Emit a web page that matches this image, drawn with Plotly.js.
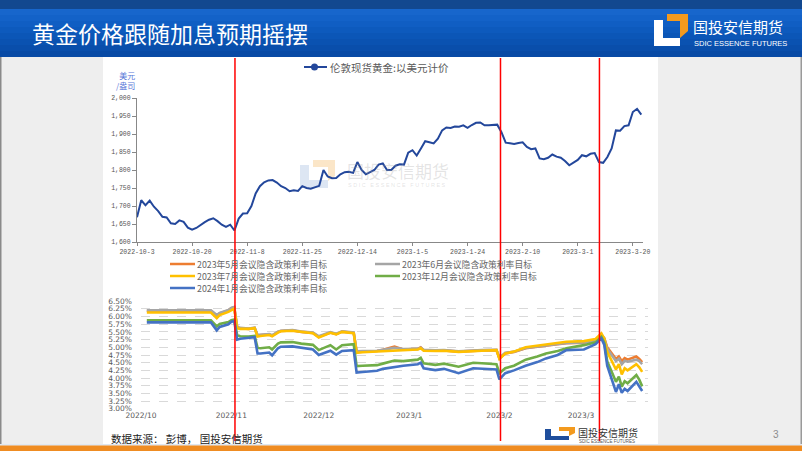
<!DOCTYPE html>
<html><head><meta charset="utf-8">
<script src="https://cdn.plot.ly/plotly-3.0.1.min.js"></script>
<style>html,body{margin:0;padding:0;background:#efefef;overflow:hidden}#chart{width:802px;height:451px}</style>
</head><body><div id="chart"></div>
<script>
// ---------- DATA ----------
const goldName = '伦敦现货黄金:以美元计价';
const goldPrice = [
 1669,1716,1702,1715,1698,1686,1670,1668,1652,1650,
 1660,1656,1640,1634,1639,1648,1655,1662,1666,1658,
 1648,1642,1648,1632,1665,1679,1680,1700,1735,1755,
 1766,1771,1772,1765,1755,1750,1741,1744,1742,1755,
 1750,1748,1753,1756,1800,1782,1777,1778,1788,1794,
 1795,1792,1822,1800,1788,1793,1800,1815,1818,1800,
 1800,1812,1816,1815,1848,1855,1840,1860,1880,1877,
 1874,1887,1910,1918,1917,1921,1920,1924,1917,1925,
 1931,1932,1924,1924,1924,1926,1905,1876,1874,1872,
 1875,1877,1864,1858,1860,1832,1830,1834,1843,1837,
 1834,1825,1813,1820,1828,1841,1838,1845,1847,1822,
 1820,1836,1860,1910,1909,1922,1924,1961,1970,1954
];
const goldTickLabels = ['2022-10-3','2022-10-20','2022-11-8','2022-11-25','2022-12-14','2023-1-5','2023-1-24','2023-2-10','2023-3-1','2023-3-20'];
const goldTickEvery = 13;

const rateDates = [
 '2022-10-03','2022-10-25','2022-10-27','2022-10-28','2022-10-31','2022-11-01','2022-11-02','2022-11-03','2022-11-04','2022-11-07',
 '2022-11-09','2022-11-10','2022-11-11','2022-11-14','2022-11-15','2022-11-17','2022-11-18','2022-11-22','2022-11-25','2022-11-29',
 '2022-12-01','2022-12-05','2022-12-07','2022-12-09','2022-12-13','2022-12-14','2022-12-16','2022-12-21','2022-12-23','2022-12-27',
 '2022-12-30','2023-01-04','2023-01-05','2023-01-06','2023-01-10','2023-01-13','2023-01-18','2023-01-23','2023-01-26','2023-01-31',
 '2023-02-01','2023-02-03','2023-02-06','2023-02-10','2023-02-14','2023-02-17','2023-02-21','2023-02-24','2023-03-02','2023-03-06',
 '2023-03-08','2023-03-09','2023-03-10','2023-03-13','2023-03-14','2023-03-15','2023-03-16','2023-03-17','2023-03-20','2023-03-21',
 '2023-03-22'
];
const may23 = [
 6.19,6.19,6.03,6.10,6.20,6.27,6.30,5.65,5.62,5.60,
 5.63,5.38,5.40,5.42,5.38,5.50,5.53,5.55,5.50,5.47,
 5.34,5.48,5.43,5.51,5.47,4.85,4.86,4.88,4.92,5.02,
 4.93,4.95,5.00,4.91,4.89,4.90,4.86,4.90,4.90,4.91,
 4.64,4.80,4.85,4.97,5.02,5.07,5.10,5.13,5.15,5.22,
 5.40,5.30,5.00,4.62,4.70,4.55,4.65,4.60,4.70,4.62,
 4.52
];
const jun23 = [
 6.20,6.20,6.05,6.12,6.21,6.28,6.31,5.66,5.63,5.61,
 5.64,5.40,5.41,5.43,5.39,5.51,5.54,5.56,5.51,5.48,
 5.36,5.49,5.44,5.52,5.48,4.87,4.88,4.89,4.92,4.98,
 4.94,4.95,4.99,4.92,4.90,4.91,4.87,4.91,4.91,4.92,
 4.66,4.82,4.86,4.98,5.03,5.08,5.11,5.14,5.16,5.23,
 5.41,5.28,4.95,4.55,4.63,4.45,4.56,4.53,4.60,4.55,
 4.45
];
const jul23 = [
 6.13,6.13,5.95,6.05,6.15,6.22,6.26,5.62,5.60,5.60,
 5.62,5.35,5.37,5.40,5.36,5.48,5.52,5.54,5.50,5.46,
 5.32,5.47,5.42,5.50,5.46,4.82,4.84,4.86,4.88,4.90,
 4.91,4.93,4.97,4.89,4.88,4.89,4.85,4.89,4.89,4.91,
 4.62,4.80,4.86,5.00,5.05,5.10,5.13,5.18,5.20,5.27,
 5.45,5.28,4.85,4.28,4.45,4.12,4.32,4.25,4.45,4.35,
 4.20
];
const dec23 = [
 5.88,5.88,5.68,5.76,5.82,5.88,5.90,5.40,5.36,5.35,
 5.37,4.98,4.97,5.00,4.93,5.12,5.16,5.17,5.12,5.08,
 4.91,5.07,4.93,5.07,5.10,4.39,4.40,4.42,4.47,4.57,
 4.55,4.60,4.66,4.48,4.43,4.47,4.37,4.50,4.48,4.45,
 4.16,4.32,4.40,4.60,4.70,4.80,4.88,4.97,5.07,5.16,
 5.34,5.15,4.55,3.88,4.05,3.72,3.90,3.83,4.10,3.95,
 3.73
];
const jan24 = [
 5.81,5.81,5.55,5.66,5.75,5.83,5.85,5.25,5.28,5.30,
 5.33,4.80,4.80,4.83,4.74,4.97,5.02,5.03,4.98,4.93,
 4.75,4.89,4.76,4.88,4.91,4.18,4.20,4.24,4.30,4.36,
 4.40,4.45,4.50,4.32,4.26,4.30,4.16,4.32,4.30,4.28,
 3.96,4.16,4.25,4.40,4.52,4.64,4.75,4.91,4.93,5.10,
 5.29,5.08,4.40,3.55,3.80,3.52,3.65,3.58,3.88,3.72,
 3.58
];
const rateSeries = [may23, jun23, jul23, dec23, jan24];
const rateNames = ['2023年5月会议隐含政策利率目标','2023年6月会议隐含政策利率目标','2023年7月会议隐含政策利率目标','2023年12月会议隐含政策利率目标','2024年1月会议隐含政策利率目标'];
const fomcDates = ['2022-11-02 06:00','2023-02-01 09:00','2023-03-07 08:00'];

// ---------- STYLE ----------
const rateColors = ['#ED7D31','#A5A5A5','#FFC000','#70AD47','#4472C4'];
const goldColor = '#23479b';
const W = 802, H = 451;
const px = x => x / W, py = y => 1 - y / H;
const path = pts => 'M' + pts.map(p => px(p[0]) + ',' + py(p[1])).join(' L') + ' Z';
const rect = (x0, y0, x1, y1, fill, layer) => ({type:'rect', xref:'paper', yref:'paper', x0:px(x0), x1:px(x1), y0:py(y1), y1:py(y0), fillcolor:fill, line:{width:0}, layer:layer||'below'});
const seg = (x0, y0, x1, y1, color, width) => ({type:'line', xref:'paper', yref:'paper', x0:px(x0), x1:px(x1), y0:py(y0), y1:py(y1), line:{color:color, width:width}, layer:'above'});
const ann = (x, y, text, o) => Object.assign({xref:'paper', yref:'paper', x:px(x), y:py(y), text:text, showarrow:false, xanchor:'left', yanchor:'middle', borderpad:0, font:{family:'Noto Sans CJK SC', size:10, color:'#595959'}}, o||{});

const shapes = [];
// header
shapes.push(rect(0,0,802,9,'#12488f'));
const hdr = ['#1766cc','#1362c8','#105ec3','#0d5abd','#0b56b7','#0a52b1','#094eab','#084aa5'];
hdr.forEach((c,i)=>shapes.push(rect(0,9+i*6,802,15+i*6,c)));
// body panels
shapes.push(rect(0,57,802,445,'#eeeeee'));
shapes.push(rect(0,57,1.5,445,'#8a8a8a'));
shapes.push(rect(800.5,57,802,445,'#9a9a9a'));
shapes.push(rect(103,57,658,444,'#ffffff'));
shapes.push(rect(0,444,802,445.5,'#dfe8f2'));
shapes.push(rect(0,445.5,802,451,'#ef8c22'));
// header logo
shapes.push({type:'path', xref:'paper', yref:'paper', path:path([[654,20],[663,20],[663,38],[680,38],[680,46],[654,46]]), fillcolor:'#ffffff', line:{width:0}, layer:'below'});
shapes.push({type:'path', xref:'paper', yref:'paper', path:path([[667,14],[688,14],[688,31],[680,38],[680,21],[667,21]]), fillcolor:'#f39a1e', line:{width:0}, layer:'below'});
// bottom logo
shapes.push({type:'path', xref:'paper', yref:'paper', path:path([[545,429],[551,429],[551,436],[569,436],[569,440],[545,440]]), fillcolor:'#1f4e9c', line:{width:0}, layer:'below'});
shapes.push({type:'path', xref:'paper', yref:'paper', path:path([[559,427],[575,427],[575,433],[569,436],[569,431],[559,431]]), fillcolor:'#f39a1e', line:{width:0}, layer:'below'});
// watermark logo
shapes.push({type:'path', xref:'paper', yref:'paper', path:path([[300,165],[309,165],[309,180],[328,180],[328,188],[300,188]]), fillcolor:'#dde6f3', line:{width:0}, layer:'below'});
shapes.push({type:'path', xref:'paper', yref:'paper', path:path([[313,160],[335,160],[335,176],[328,181],[328,167],[313,167]]), fillcolor:'#fbe6c8', line:{width:0}, layer:'below'});
// gold legend symbol
shapes.push(seg(304,67,327,67,goldColor,2));
shapes.push({type:'circle', xref:'paper', yref:'paper', x0:px(311), x1:px(318), y0:py(70.5), y1:py(63.5), fillcolor:goldColor, line:{width:0}, layer:'above'});
// rate legend symbols
const legPos = [[170,264],[375,264],[170,276],[375,276],[170,288]];
legPos.forEach((p,i)=>shapes.push(seg(p[0],p[1],p[0]+25,p[1],rateColors[i],2.5)));
// FOMC red lines
fomcDates.forEach(d=>shapes.push({type:'line', xref:'x2', yref:'paper', x0:d, x1:d, y0:py(441), y1:py(58), line:{color:'#ff0000', width:1.5}, layer:'above'}));

const annotations = [
 ann(31,33,'黄金价格跟随加息预期摇摆',{font:{family:'Noto Sans CJK SC', size:23, color:'#ffffff'}}),
 ann(692,27,'国投安信期货',{font:{family:'Noto Sans CJK SC', size:15, color:'#ffffff'}}),
 ann(693,43.5,'SDIC ESSENCE FUTURES',{font:{family:'Liberation Sans Narrow, Liberation Sans', size:7.5, color:'#ffffff'}}),
 ann(329,67,goldName,{font:{family:'Noto Sans CJK SC', size:10.5, color:'#595959'}}),
 ann(136,80,'美元<br>/盎司',{xanchor:'right', align:'right', font:{family:'Noto Sans CJK SC', size:8, color:'#5a78d8'}}),
 ann(346,170,'国投安信期货',{font:{family:'Noto Sans CJK SC', size:17, color:'rgba(160,160,160,0.28)'}}),
 ann(347,185,'S D I C   E S S E N C E   F U T U R E S',{font:{family:'Liberation Sans', size:5.5, color:'rgba(160,160,160,0.3)'}}),
 ann(110,438,'数据来源： 彭博， 国投安信期货',{font:{family:'Noto Sans CJK SC', size:10.5, color:'#222222'}}),
 ann(577,432,'国投安信期货',{font:{family:'Noto Sans CJK SC', size:10, color:'#333333'}}),
 ann(578,441.5,'SDIC ESSENCE FUTURES',{font:{family:'Liberation Sans Narrow, Liberation Sans', size:4.5, color:'#555555'}}),
 ann(772,434,'3',{font:{family:'Liberation Sans', size:10, color:'#8c8c8c'}})
];
legPos.forEach((p,i)=>annotations.push(ann(p[0]+26,p[1],rateNames[i],{font:{family:'Noto Sans CJK SC', size:8.8, color:'#666666'}})));

const traces = [{
 x: goldPrice.map((_,i)=>i), y: goldPrice, name: goldName, xaxis:'x', yaxis:'y',
 mode:'lines', line:{color:goldColor, width:2}, showlegend:false, hoverinfo:'skip'
}];
rateSeries.forEach((s,i)=>traces.push({
 x: rateDates, y: s, name: rateNames[i], xaxis:'x2', yaxis:'y2',
 mode:'lines', line:{color:rateColors[i], width:2.6}, showlegend:false, hoverinfo:'skip'
}));

const smallMono = {family:'Liberation Mono', size:6.5, color:'#555555'};
const layout = {
 width:W, height:H, margin:{l:0,r:0,t:0,b:0,pad:0},
 paper_bgcolor:'#eeeeee', plot_bgcolor:'rgba(0,0,0,0)', showlegend:false,
 font:{family:'Noto Sans CJK SC'},
 xaxis:{domain:[px(137),px(643)], anchor:'y', range:[0,119.4],
  tickvals: goldTickLabels.map((_,i)=>i*goldTickEvery), ticktext: goldTickLabels,
  ticks:'outside', ticklen:3, tickcolor:'#888888', showline:true, linecolor:'#888888', linewidth:1,
  showgrid:false, zeroline:false, tickfont:smallMono, fixedrange:true},
 yaxis:{domain:[py(242),py(98)], anchor:'x', range:[1600,2000], dtick:50, tick0:1600, tickformat:',d',
  ticks:'outside', ticklen:4, tickcolor:'#888888', showline:true, linecolor:'#888888', linewidth:1,
  showgrid:false, zeroline:false, tickfont:smallMono, fixedrange:true},
 xaxis2:{domain:[px(141),px(648)], anchor:'y2', type:'date', range:['2022-10-01','2023-03-24'],
  tickformat:'%Y/%-m', dtick:'M1', tick0:'2022-10-01', ticks:'', showgrid:false, showline:false, zeroline:false,
  tickfont:{family:'DejaVu Sans', size:7.5, color:'#595959'}, fixedrange:true},
 yaxis2:{domain:[py(409),py(301)], anchor:'x2', range:[2.995,6.505], dtick:0.25, tick0:3, tickformat:'.2f', ticksuffix:'%',
  ticks:'', ticklabelstandoff:8, showgrid:true, gridcolor:'#d9d9d9', griddash:'dash', gridwidth:1, showline:false, zeroline:false,
  tickfont:{family:'DejaVu Sans', size:7.5, color:'#595959'}, fixedrange:true},
 shapes: shapes, annotations: annotations
};
Plotly.newPlot('chart', traces, layout, {staticPlot:true, displayModeBar:false});
</script></body></html>
